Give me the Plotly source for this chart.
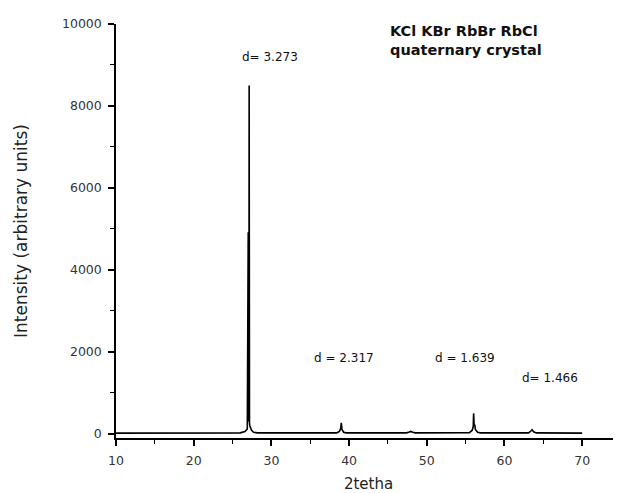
import plotly.graph_objects as go

two_theta = [10.0, 20.0, 26.0, 26.6, 26.9, 27.02, 27.07, 27.11, 27.14, 27.18, 27.22, 27.3, 27.45, 27.7, 28.2,
             38.4, 38.75, 38.92, 39.0, 39.08, 39.3, 39.6,
             47.4, 47.75, 47.95, 48.2, 48.5,
             55.5, 55.85, 55.98, 56.03, 56.1, 56.18, 56.25, 56.4, 56.55, 56.9,
             63.1, 63.4, 63.55, 63.75, 64.1, 70.0]
intensity = [20, 20, 25, 60, 120, 4900, 4900, 300, 8500, 260, 200, 150, 90, 40, 25,
             25, 60, 130, 270, 110, 40, 25,
             25, 45, 60, 40, 25,
             30, 90, 180, 500, 200, 230, 110, 60, 40, 25,
             25, 70, 100, 50, 25, 20]

peak_labels = ["d= 3.273", "d = 2.317", "d = 1.639", "d= 1.466"]
label_x = [29.8, 39.4, 54.9, 65.8]
label_y = [9200, 1850, 1850, 1370]

sample_title = "KCl KBr RbBr RbCl<br>quaternary crystal"

FONT = "DejaVu Sans, Verdana, sans-serif"

fig = go.Figure()
fig.add_trace(go.Scatter(x=two_theta, y=intensity, mode="lines",
                         line=dict(color="black", width=1.6), showlegend=False))

for t, lx, ly in zip(peak_labels, label_x, label_y):
    fig.add_annotation(x=lx, y=ly, text=t, showarrow=False, xref="x", yref="y",
                       font=dict(family=FONT, size=12, color="#111"))

fig.add_annotation(x=45.0, y=9600, text="<b>" + sample_title + "</b>", showarrow=False,
                   xref="x", yref="y", xanchor="left", yanchor="middle", align="left",
                   font=dict(family=FONT, size=14.5, color="#111"))

fig.update_layout(
    width=613, height=485,
    margin=dict(l=108, r=0, t=16, b=55, autoexpand=False),
    paper_bgcolor="white", plot_bgcolor="white",
    font=dict(family=FONT, size=12.5, color="#333"),
    xaxis=dict(range=[10, 75], tick0=10, dtick=10, showline=True, linecolor="black", linewidth=1.5,
               ticks="outside", ticklen=6, tickwidth=1.5, tickcolor="black", showgrid=False, zeroline=False,
               automargin=False, ticklabelstandoff=4,
               minor=dict(dtick=5, tick0=10, ticks="outside", ticklen=4, tickwidth=1.2, tickcolor="black"),
               title=dict(text="2tetha", font=dict(size=15, color="#222"), standoff=16)),
    yaxis=dict(range=[-100, 10000], tick0=0, dtick=2000, tickformat="d", showline=True, linecolor="black",
               linewidth=1.5, automargin=False, ticklabelstandoff=4,
               ticks="outside", ticklen=6, tickwidth=1.5, tickcolor="black", showgrid=False, zeroline=False,
               minor=dict(dtick=1000, tick0=0, ticks="outside", ticklen=4, tickwidth=1.2, tickcolor="black"),
               title=dict(text="Intensity (arbitrary units)", font=dict(size=17, color="#222"), standoff=30)),
)

fig.write_html("out.html")
